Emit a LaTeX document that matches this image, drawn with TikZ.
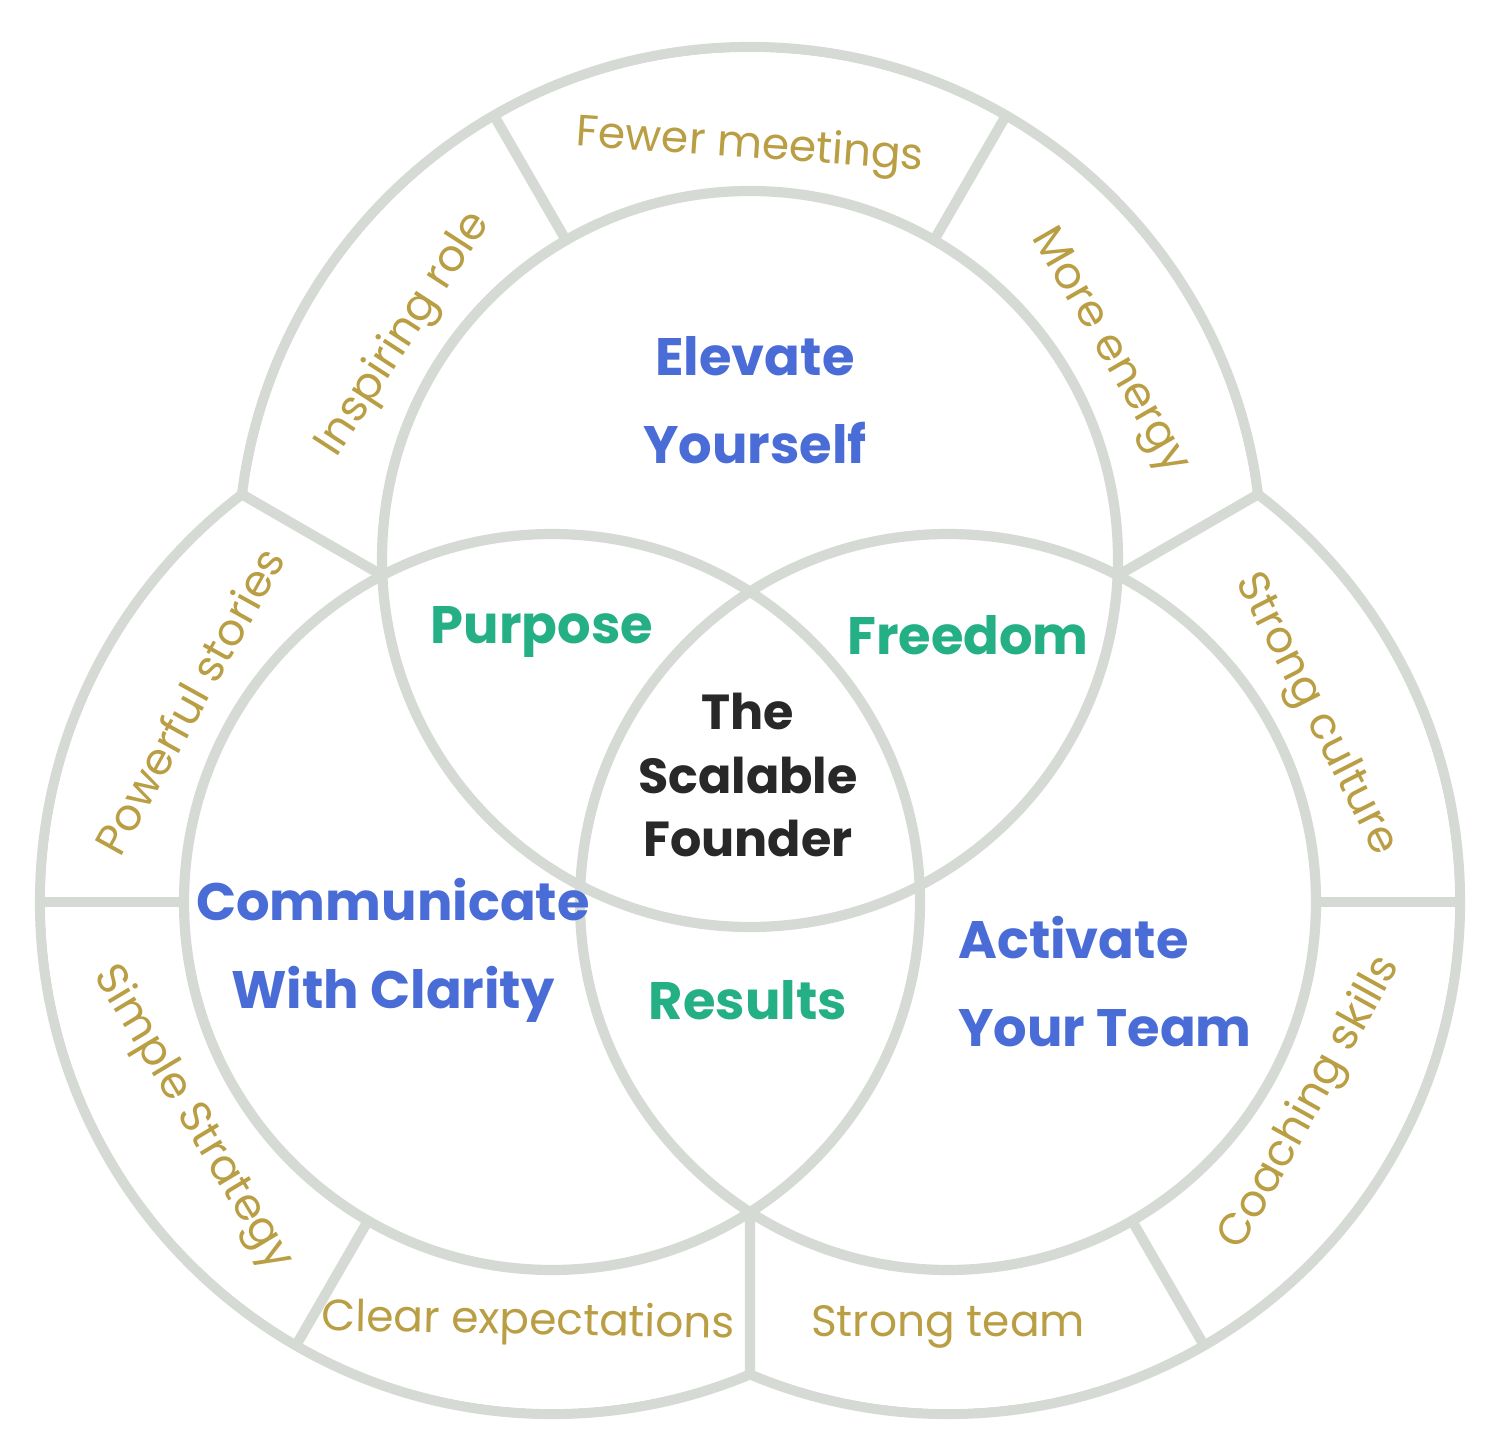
\documentclass[tikz,border=0pt]{standalone}
\usepackage{fontspec}
\setmainfont{Poppins}
\usetikzlibrary{calc}
\definecolor{ringgray}{RGB}{214,218,212}
\definecolor{bandgold}{RGB}{186,158,68}
\definecolor{coreblue}{RGB}{74,108,214}
\definecolor{lensgreen}{RGB}{36,176,132}
\definecolor{hubink}{RGB}{40,40,40}
\tikzset{
  ring/.style={draw=ringgray, line width=2.9pt, line cap=round},
  band/.style={text=bandgold, font=\fontsize{12.5}{15}\selectfont},
  core/.style={text=coreblue, font=\fontsize{15}{25}\selectfont\bfseries, align=center},
  lens/.style={text=lensgreen, font=\fontsize{15}{20}\selectfont\bfseries},
  hub/.style={text=hubink, font=\fontsize{14}{18}\selectfont\bfseries, align=center}
}

\begin{document}
\begin{tikzpicture}
\fill[white] (0,0) rectangle (14.98,14.40);
\useasboundingbox (0,0) rectangle (14.98,14.40);

\coordinate (top) at (7.50,8.81);
\coordinate (left) at (5.52,5.38);
\coordinate (right) at (9.48,5.38);

\foreach \c in {top,left,right} \draw[ring] (\c) circle[radius=5.12];
\foreach \c in {top,left,right} \fill[white] (\c) circle[radius=5.12cm-1.45pt];
\foreach \c in {top,left,right} \draw[ring] (\c) circle[radius=3.68];
\foreach \c/\a/\b in {top/60/60, top/120/120, left/180/180, left/240/240, right/0/0, right/300/300,
                      left/117.45/127.25, right/62.55/52.75, left/-57.45/-67.25}
  \draw[ring] ($(\c)+(\a:3.68)$) -- ($(\c)+(\b:5.12)$);

\node[core] (elevate) at (7.55,10.40) {Elevate\\Yourself};
\node[core] (communicate) at (3.93,4.90) {Communicate\\With Clarity};
\node[core, align=left] (activate) at (11.05,4.58) {Activate\\Your Team};
\node[lens] (purpose) at (5.42,8.08) {Purpose};
\node[lens] (freedom) at (9.68,8.05) {Freedom};
\node[lens] (results) at (7.48,4.40) {Results};
\node[hub] (founder) at (7.48,6.65) {The\\Scalable\\Founder};

\node[band, rotate=57] (inspiring) at ($(top)+(147:4.12)$) {Inspiring role};
\node[band, rotate=-4] (meetings) at ($(top)+(90:4.12)$) {Fewer meetings};
\node[band, rotate=-60] (energy) at ($(top)+(30:4.14)$) {More energy};
\node[band, rotate=61] (stories) at ($(left)+(151:4.15)$) {Powerful stories};
\node[band, rotate=-59] (strategy) at ($(left)+(211:4.2)$) {Simple Strategy};
\node[band, rotate=-1] (expectations) at ($(left)+(266.8:4.22)$) {Clear expectations};
\node[band, rotate=0] (team) at ($(right)+(270:4.25)$) {Strong team};
\node[band, rotate=61] (coaching) at ($(right)+(331:4.15)$) {Coaching skills};
\node[band, rotate=-63] (culture) at ($(right)+(27:4.12)$) {Strong culture};
\end{tikzpicture}
\end{document}
